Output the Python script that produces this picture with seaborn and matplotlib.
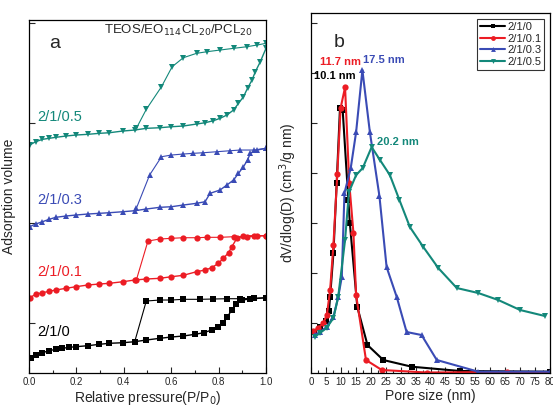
import numpy as np
import pandas as pd
import matplotlib
matplotlib.use("Agg")
import matplotlib.pyplot as plt
import seaborn as sns
from matplotlib.ticker import MultipleLocator
from matplotlib.lines import Line2D

sns.set_theme(style="ticks")
plt.rcParams['font.family'] = ['Liberation Sans', 'DejaVu Sans']

# ---------------- data: panel a (isotherms, arbitrary offset units) ----------------
labels = ["2/1/0", "2/1/0.1", "2/1/0.3", "2/1/0.5"]
colors = ["#000000", "#ec1c24", "#3a4bb5", "#13887a"]
markers_a = ["s", "o", "^", "v"]

ads_p_0 = [0.007, 0.028, 0.057, 0.085, 0.113, 0.141, 0.170, 0.198, 0.248, 0.297, 0.339, 0.396, 0.446,
           0.495, 0.552, 0.601, 0.651, 0.700, 0.738, 0.771, 0.799, 0.820, 0.837, 0.856, 0.874, 0.898, 0.934, 1.0]
ads_v_0 = [14.7, 18, 20.3, 22.3, 23.7, 24.7, 25.7, 26.3, 27.3, 28.7, 29.7, 30.3, 31.3,
           33, 34.7, 36, 37, 38.7, 40.3, 43, 46.3, 50.3, 56.3, 63, 69, 73, 74, 75.3]
des_p_0 = [1.0, 0.948, 0.891, 0.835, 0.778, 0.721, 0.651, 0.601, 0.552, 0.495, 0.446]
des_v_0 = [75.3, 74.7, 74.3, 74.3, 74, 73.7, 73.7, 73, 73, 72, 31.3]

ads_p_1 = [0.003, 0.028, 0.057, 0.085, 0.113, 0.156, 0.198, 0.248, 0.297, 0.339, 0.396, 0.446, 0.495,
           0.552, 0.601, 0.651, 0.707, 0.743, 0.771, 0.799, 0.820, 0.842, 0.856, 0.877, 0.905, 0.948, 1.0]
ads_v_1 = [75.3, 78.7, 80.3, 81.7, 83, 84.7, 86.3, 88, 89, 89.7, 91.3, 93, 94,
           94.7, 96.3, 97.7, 101.3, 103, 105.3, 109.7, 114.7, 120.3, 126.3, 134.7, 137, 137.3, 137.3]
des_p_1 = [1.0, 0.962, 0.919, 0.863, 0.806, 0.750, 0.707, 0.651, 0.601, 0.552, 0.502, 0.453]
des_v_1 = [137.3, 137, 136.3, 136.3, 135.7, 135.7, 135.3, 135.3, 134.7, 134, 132, 93]

ads_p_3 = [0.003, 0.028, 0.057, 0.085, 0.113, 0.156, 0.198, 0.248, 0.297, 0.339, 0.396, 0.446, 0.495,
           0.552, 0.601, 0.651, 0.707, 0.743, 0.764, 0.806, 0.835, 0.863, 0.884, 0.905, 0.922, 0.934, 0.962, 1.0]
ads_v_3 = [146.3, 149, 151.3, 153.7, 155.7, 157, 158, 159, 159.7, 160.3, 161.3, 162.3, 164,
           165.7, 166.3, 168, 169.7, 171.3, 179.7, 183, 188, 193, 199.7, 206.3, 213, 219.7, 223, 224.7]
des_p_3 = [1.0, 0.948, 0.891, 0.849, 0.792, 0.736, 0.693, 0.651, 0.601, 0.559, 0.509, 0.453]
des_v_3 = [224.7, 223, 223, 222.3, 221.3, 220.3, 219.7, 219, 218, 216.3, 198, 164.7]

ads_p_5 = [0.003, 0.028, 0.057, 0.085, 0.113, 0.156, 0.198, 0.248, 0.297, 0.339, 0.396, 0.446, 0.495,
           0.552, 0.601, 0.651, 0.707, 0.743, 0.778, 0.806, 0.835, 0.863, 0.884, 0.905, 0.922, 0.941,
           0.955, 0.976, 1.0]
ads_v_5 = [228, 231.3, 233.7, 234.7, 235.7, 237, 238, 238.7, 239.7, 240.3, 242, 243, 244.7,
           245.3, 246.3, 247, 249, 250.3, 252.3, 254.7, 258, 263, 269.7, 276.3, 284.7, 293,
           301.3, 311.3, 324.7]
des_p_5 = [1.0, 0.962, 0.919, 0.863, 0.806, 0.750, 0.707, 0.651, 0.604, 0.559, 0.495, 0.453]
des_v_5 = [329.7, 328, 326.3, 324.7, 323, 321.3, 319.7, 315.3, 306.3, 286.3, 263.7, 244.7]

# ---------------- data: panel b (pore size distribution) ----------------
d_0 = [1, 3, 5, 6, 6.4, 7.5, 8.6, 9.7, 10.6, 12.5, 13, 15.5, 18.9, 24.2, 33.7, 49.9, 80]
v_0 = [41.3, 46, 52, 62, 76.3, 119.7, 190.3, 265, 263, 173, 150, 66, 28, 13, 6.3, 2, 1.3]
d_1 = [0.8, 2.5, 4.1, 5.3, 6.4, 7.5, 8.8, 9.9, 11.4, 12.8, 14.2, 15.1, 18.4, 23.7, 38.7, 65.5, 80]
v_1 = [42, 45, 50, 58, 83, 128, 199, 265, 285.7, 190, 140, 78, 13, 3, 0.5, 1, 0.5]
d_3 = [1.3, 3, 5.2, 7.5, 9.1, 10.3, 11.2, 13.3, 15.1, 17.2, 19.7, 22.9, 25.3, 28.7, 32, 37, 42.1, 56, 80]
v_3 = [38, 41, 46, 56, 76, 96, 180, 205, 241, 303, 241, 177, 106, 76, 41, 38, 13, 1.3, 1.3]
d_5 = [1.3, 3, 5.2, 7.5, 9.1, 11.4, 12.7, 15.1, 17.3, 20.3, 23.1, 26.4, 29.6, 33.1, 37.6, 42.6, 48.8,
       56, 62.7, 70, 78.3]
v_5 = [36.3, 40, 45, 55, 76, 133, 181, 198, 205, 226, 213, 198, 173, 146, 126, 105, 85,
       80, 73, 63, 57]

peak_labels = ["10.1 nm", "11.7 nm", "17.5 nm", "20.2 nm"]

# ---------------- figure ----------------
fig = plt.figure(figsize=(5.53, 4.09), dpi=100)
ax1 = fig.add_axes([0.0524, 0.088, 0.4286, 0.863])
ax2 = fig.add_axes([0.5624, 0.088, 0.4322, 0.880])

ads = [(ads_p_0, ads_v_0), (ads_p_1, ads_v_1), (ads_p_3, ads_v_3), (ads_p_5, ads_v_5)]
des = [(des_p_0, des_v_0), (des_p_1, des_v_1), (des_p_3, des_v_3), (des_p_5, des_v_5)]
ms = [4, 4.5, 4.5, 4.5]
for i in range(4):
    for (p, v), lw in ((ads[i], 1.0), (des[i], 0.8)):
        df = pd.DataFrame({"p": p, "v": v})
        sns.lineplot(data=df, x="p", y="v", ax=ax1, sort=False, estimator=None,
                     color=colors[i], marker=markers_a[i], markersize=ms[i],
                     markeredgewidth=0, linewidth=lw)

ax1.set_xlim(0, 1.0)
ax1.set_ylim(0, 353)
ax1.xaxis.set_major_locator(MultipleLocator(0.2))
ax1.xaxis.set_minor_locator(MultipleLocator(0.1))
ax1.set_xticks([0, 0.2, 0.4, 0.6, 0.8, 1.0])
ax1.set_xticklabels(["0.0", "0.2", "0.4", "0.6", "0.8", "1.0"])
ax1.set_yticks([50, 150, 250, 350])
ax1.set_yticklabels([])
ax1.tick_params(direction="in", length=4, width=0.8, labelsize=7, pad=3)
ax1.tick_params(which="minor", direction="in", length=2, width=0.8)
ax1.set_xlabel("Relative pressure(P/P$_0$)", fontsize=10, labelpad=1)
ax1.set_ylabel("Adsorption volume", fontsize=10, labelpad=6)

ax1.text(0.11, 330, "a", fontsize=14, ha="center", va="center")
ax1.text(0.63, 343, "TEOS/EO$_{114}$CL$_{20}$/PCL$_{20}$", fontsize=9.5, ha="center", va="center")
label_pos = [(0.034, 41), (0.034, 101), (0.034, 173), (0.034, 256)]
for i in range(4):
    ax1.text(label_pos[i][0], label_pos[i][1], labels[i], color=colors[i], fontsize=10.5,
             ha="left", va="center")

# panel b
pairs = [(d_0, v_0), (d_1, v_1), (d_3, v_3), (d_5, v_5)]
markers_b = ["s", "o", "^", "v"]
ms_b = [4, 4.5, 5, 5]
for i in range(4):
    df = pd.DataFrame({"d": pairs[i][0], "v": pairs[i][1]})
    sns.lineplot(data=df, x="d", y="v", ax=ax2, sort=False, estimator=None,
                 color=colors[i], marker=markers_b[i], markersize=ms_b[i],
                 markeredgewidth=0, linewidth=1.5)

ax2.set_xlim(0, 80)
ax2.set_ylim(0, 360)
ax2.set_xticks(np.arange(0, 81, 5))
ax2.set_xticklabels([str(t) for t in range(0, 81, 5)])
ax2.xaxis.set_minor_locator(MultipleLocator(2.5))
ax2.set_yticks([50, 100, 150, 200, 250, 300, 350])
ax2.set_yticklabels([])
ax2.tick_params(direction="in", length=4, width=0.8, labelsize=7, pad=3)
ax2.tick_params(which="minor", direction="in", length=2, width=0.8)
ax2.set_xlabel("Pore size (nm)", fontsize=10, labelpad=1)
ax2.set_ylabel("dV/dlog(D) (cm$^3$/g nm)", fontsize=10, labelpad=6)

ax2.text(9.4, 331, "b", fontsize=14, ha="center", va="center")
pk_pos = [(8.0, 297), (10.0, 311), (24.4, 313), (29.1, 231)]
for i in range(4):
    ax2.text(pk_pos[i][0], pk_pos[i][1], peak_labels[i], color=colors[i], fontsize=8,
             fontweight="bold", ha="center", va="center")

handles = [Line2D([], [], color=colors[i], marker=markers_b[i], markersize=3.5, linewidth=1.5,
                  markeredgewidth=0) for i in range(4)]
leg = ax2.legend(handles, labels, loc="upper right", fontsize=8, frameon=True, fancybox=False,
                 edgecolor="black", handlelength=2.2, handletextpad=0.2, borderpad=0.3,
                 labelspacing=0.15, borderaxespad=0.5)
leg.get_frame().set_linewidth(0.8)

for ax in (ax1, ax2):
    for s in ax.spines.values():
        s.set_linewidth(0.9)
        s.set_color("black")

fig.savefig("out.png", dpi=100)
